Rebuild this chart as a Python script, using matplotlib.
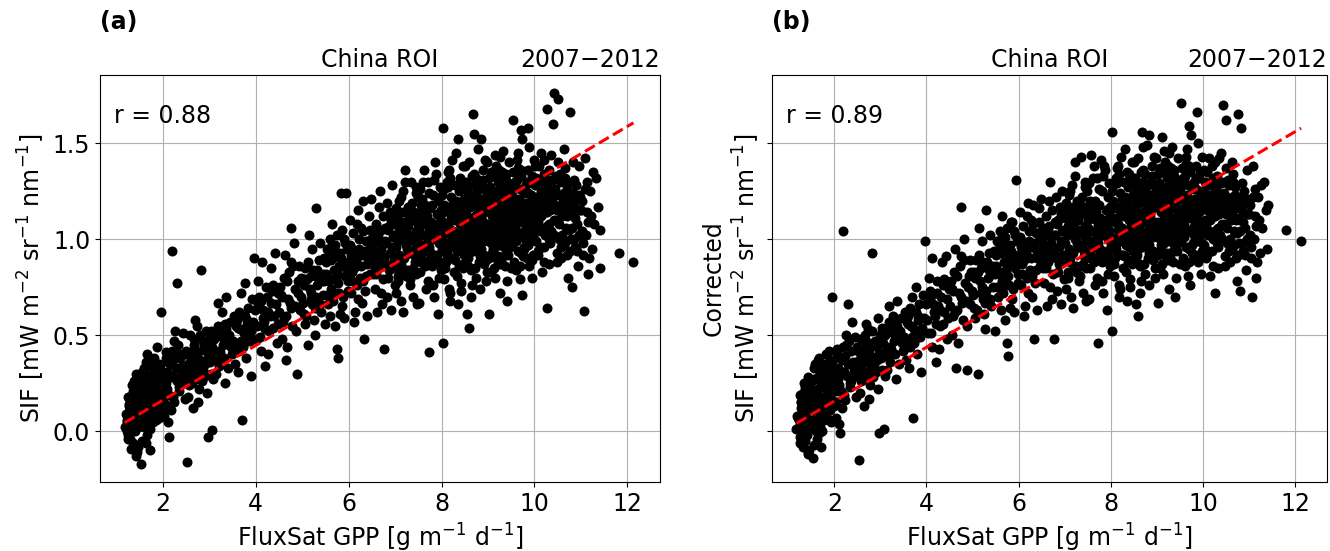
import matplotlib.pyplot as plt
import numpy as np

# FluxSat GPP (shared by both panels), one row of 10 per line
gpp = [
    1.18, 1.22, 1.25, 1.28, 1.31, 1.33, 1.36, 1.38, 1.41, 1.44,
    1.20, 1.24, 1.27, 1.30, 1.34, 1.37, 1.40, 1.43, 1.46, 1.48,
    1.26, 1.29, 1.32, 1.35, 1.39, 1.42, 1.45, 1.47, 1.49, 1.35,
    1.51, 1.53, 1.55, 1.57, 1.59, 1.61, 1.63, 1.65, 1.67, 1.69,
    1.52, 1.56, 1.60, 1.64, 1.68, 1.72, 1.76, 1.80, 1.84, 1.88,
    1.54, 1.58, 1.62, 1.66, 1.70, 1.74, 1.78, 1.82, 1.86, 1.90,
    1.71, 1.73, 1.77, 1.81, 1.85, 1.89, 1.92, 1.94, 1.96, 1.99,
    2.01, 2.04, 2.07, 2.10, 2.13, 2.16, 2.19, 2.22, 2.25, 2.28,
    2.03, 2.08, 2.12, 2.17, 2.21, 2.26, 2.30, 2.34, 2.38, 2.42,
    2.05, 2.11, 2.15, 2.20, 2.24, 2.29, 2.33, 2.37, 2.44, 2.48,
    2.51, 2.53, 2.56, 2.59, 2.62, 2.65, 2.68, 2.71, 2.74, 2.77,
    2.55, 2.60, 2.64, 2.69, 2.73, 2.78, 2.82, 2.86, 2.90, 2.94,
    2.58, 2.66, 2.75, 2.80, 2.84, 2.88, 2.92, 2.95, 2.97, 2.99,
    3.02, 3.07, 3.11, 3.15, 3.19, 3.23, 3.28, 3.33, 3.38, 3.44,
    3.04, 3.09, 3.13, 3.18, 3.22, 3.27, 3.31, 3.36, 3.41, 3.47,
    3.51, 3.55, 3.60, 3.64, 3.68, 3.70, 3.74, 3.79, 3.84, 3.89,
    3.53, 3.58, 3.62, 3.67, 3.72, 3.77, 3.82, 3.87, 3.93, 3.97,
    4.02, 4.06, 4.11, 4.15, 4.20, 4.24, 4.29, 4.34, 4.39, 4.45,
    4.04, 4.09, 4.13, 4.18, 4.22, 4.27, 4.32, 4.37, 4.42, 4.48,
    4.51, 4.56, 4.60, 4.65, 4.70, 4.75, 4.79, 4.84, 4.89, 4.95,
    4.53, 4.58, 4.63, 4.68, 4.72, 4.77, 4.82, 4.87, 4.92, 4.98,
    5.02, 5.07, 5.12, 5.16, 5.21, 5.25, 5.30, 5.35, 5.40, 5.46,
    5.04, 5.09, 5.14, 5.19, 5.23, 5.28, 5.33, 5.38, 5.44, 5.49,
    5.51, 5.55, 5.59, 5.63, 5.67, 5.71, 5.75, 5.79, 5.83, 5.88,
    5.53, 5.57, 5.61, 5.65, 5.69, 5.73, 5.77, 5.81, 5.86, 5.91,
    5.54, 5.62, 5.70, 5.78, 5.85, 5.90, 5.93, 5.95, 5.97, 5.99,
    6.01, 6.05, 6.09, 6.13, 6.17, 6.21, 6.25, 6.29, 6.33, 6.38,
    6.03, 6.07, 6.11, 6.15, 6.19, 6.23, 6.27, 6.31, 6.36, 6.42,
    6.04, 6.12, 6.20, 6.26, 6.35, 6.40, 6.44, 6.46, 6.48, 6.50,
    6.52, 6.56, 6.60, 6.64, 6.68, 6.72, 6.76, 6.80, 6.85, 6.90,
    6.54, 6.58, 6.62, 6.66, 6.70, 6.74, 6.78, 6.83, 6.88, 6.94,
    6.53, 6.61, 6.69, 6.77, 6.82, 6.87, 6.92, 6.95, 6.97, 6.99,
    7.01, 7.04, 7.07, 7.10, 7.13, 7.16, 7.19, 7.22, 7.25, 7.28,
    7.02, 7.06, 7.09, 7.12, 7.15, 7.18, 7.21, 7.24, 7.27, 7.30,
    7.31, 7.33, 7.35, 7.37, 7.39, 7.41, 7.43, 7.45, 7.47, 7.49,
    7.03, 7.11, 7.20, 7.26, 7.32, 7.36, 7.40, 7.44, 7.46, 7.48,
    7.51, 7.54, 7.57, 7.60, 7.63, 7.66, 7.69, 7.72, 7.73, 7.76,
    7.52, 7.55, 7.58, 7.61, 7.64, 7.67, 7.70, 7.74, 7.78, 7.81,
    7.79, 7.82, 7.84, 7.86, 7.88, 7.90, 7.92, 7.94, 7.96, 7.98,
    7.53, 7.59, 7.65, 7.71, 7.77, 7.83, 7.87, 7.91, 7.95, 7.99,
    8.01, 8.03, 8.05, 8.08, 8.11, 8.14, 8.17, 8.20, 8.23, 8.26,
    8.02, 8.03, 8.06, 8.09, 8.12, 8.15, 8.18, 8.21, 8.24, 8.27,
    8.29, 8.32, 8.35, 8.38, 8.41, 8.44, 8.47, 8.49, 8.31, 8.36,
    8.04, 8.10, 8.16, 8.22, 8.28, 8.33, 8.39, 8.43, 8.46, 8.48,
    8.07, 8.13, 8.19, 8.25, 8.30, 8.34, 8.37, 8.40, 8.42, 8.45,
    8.51, 8.53, 8.55, 8.57, 8.59, 8.62, 8.65, 8.68, 8.71, 8.74,
    8.52, 8.56, 8.60, 8.63, 8.66, 8.69, 8.72, 8.75, 8.78, 8.81,
    8.77, 8.80, 8.83, 8.86, 8.89, 8.92, 8.95, 8.97, 8.99, 8.84,
    8.54, 8.61, 8.67, 8.73, 8.79, 8.85, 8.90, 8.93, 8.96, 8.98,
    8.58, 8.64, 8.70, 8.76, 8.82, 8.87, 8.91, 8.94, 8.88, 8.70,
    9.01, 9.02, 9.05, 9.08, 9.11, 9.14, 9.17, 9.20, 9.23, 9.26,
    9.03, 9.06, 9.09, 9.12, 9.15, 9.18, 9.21, 9.24, 9.27, 9.30,
    9.29, 9.32, 9.35, 9.38, 9.41, 9.44, 9.47, 9.49, 9.33, 9.40,
    9.04, 9.10, 9.16, 9.22, 9.28, 9.34, 9.39, 9.43, 9.46, 9.48,
    9.07, 9.13, 9.19, 9.25, 9.31, 9.36, 9.42, 9.45, 9.37, 9.26,
    9.51, 9.53, 9.56, 9.59, 9.62, 9.65, 9.68, 9.71, 9.73, 9.76,
    9.52, 9.55, 9.58, 9.61, 9.64, 9.67, 9.70, 9.74, 9.78, 9.81,
    9.79, 9.83, 9.86, 9.87, 9.90, 9.93, 9.95, 9.97, 9.99, 9.84,
    9.54, 9.60, 9.66, 9.72, 9.77, 9.82, 9.88, 9.91, 9.94, 9.98,
    9.57, 9.63, 9.69, 9.75, 9.80, 9.85, 9.89, 9.92, 9.96, 9.70,
    10.01, 10.04, 10.07, 10.10, 10.13, 10.16, 10.19, 10.22, 10.26, 10.26,
    10.02, 10.06, 10.09, 10.12, 10.15, 10.18, 10.21, 10.24, 10.28, 10.31,
    10.30, 10.33, 10.36, 10.39, 10.42, 10.43, 10.45, 10.48, 10.50, 10.35,
    10.03, 10.08, 10.14, 10.20, 10.27, 10.32, 10.38, 10.41, 10.46, 10.49,
    10.52, 10.55, 10.58, 10.61, 10.64, 10.67, 10.70, 10.73, 10.76, 10.79,
    10.53, 10.59, 10.65, 10.71, 10.77, 10.82, 10.86, 10.90, 10.94, 10.98,
    10.57, 10.63, 10.69, 10.75, 10.81, 10.85, 10.88, 10.92, 10.96, 10.99,
    11.03, 11.06, 11.10, 11.14, 11.18, 11.22, 11.26, 11.33, 11.40, 11.42,
    11.05, 11.08, 11.12, 11.16, 11.20, 11.28, 11.81, 12.13, 11.24, 11.36,
    1.23, 1.30, 1.37, 1.44, 1.50, 1.58, 1.65, 1.73, 1.80, 1.87,
    1.25, 1.33, 1.40, 1.47, 1.55, 1.62, 1.70, 1.78, 1.85, 1.93,
    1.95, 2.02, 2.09, 2.14, 2.23, 2.31, 2.36, 2.41, 2.46, 2.49,
    2.52, 2.57, 2.63, 2.67, 2.72, 2.76, 2.81, 2.87, 2.93, 2.98,
    3.06, 3.14, 3.21, 3.29, 3.35, 3.42, 3.49, 3.57, 3.65, 3.75,
    3.81, 3.90, 3.99, 4.08, 4.16, 4.26, 4.35, 4.44, 4.55, 4.62,
    4.67, 4.74, 4.81, 4.90, 4.97, 5.05, 5.13, 5.22, 5.31, 5.42,
    5.52, 5.60, 5.68, 5.76, 5.84, 5.92, 6.00, 6.08, 6.16, 6.24,
    6.32, 6.39, 6.47, 6.55, 6.63, 6.71, 6.79, 6.86, 6.93, 6.98,
    6.08, 6.18, 6.28, 6.37, 6.45, 6.57, 6.65, 6.73, 6.81, 6.91,
    7.05, 7.14, 7.23, 7.34, 7.42, 7.50, 7.58, 7.68, 7.75, 7.85,
    7.08, 7.17, 7.27, 7.38, 7.47, 7.56, 7.62, 7.72, 7.80, 7.93,
    7.96, 8.04, 8.12, 8.20, 8.28, 8.36, 8.44, 8.52, 8.60, 8.68,
    8.00, 8.08, 8.16, 8.24, 8.32, 8.40, 8.48, 8.56, 8.64, 8.72,
    8.76, 8.84, 8.92, 9.00, 9.08, 9.16, 9.24, 9.32, 9.40, 9.48,
    8.80, 8.88, 8.96, 9.04, 9.12, 9.20, 9.28, 9.36, 9.44, 9.52,
    9.56, 9.64, 9.72, 9.80, 9.88, 9.96, 10.04, 10.12, 10.20, 10.28,
    9.60, 9.68, 9.76, 9.84, 9.92, 10.00, 10.08, 10.16, 10.24, 10.32,
    10.36, 10.44, 10.52, 10.60, 10.68, 10.76, 10.84, 10.92, 11.00, 11.08,
    10.40, 10.48, 10.56, 10.64, 10.72, 10.80, 10.88, 10.96, 11.04, 11.15,
    7.12, 7.29, 7.44, 7.61, 7.77, 7.89, 8.05, 8.21, 8.37, 8.53,
    8.69, 8.86, 9.01, 9.18, 9.33, 9.50, 9.66, 9.82, 9.97, 10.13,
    8.14, 8.26, 8.42, 8.58, 8.74, 8.90, 9.06, 9.22, 9.38, 9.54,
    9.70, 9.86, 10.02, 10.18, 10.34, 10.50, 10.66, 10.82, 7.36, 7.70,
    3.52, 3.61, 3.69, 3.78, 3.86, 3.95, 4.03, 4.12, 4.21, 4.30,
    4.38, 4.47, 4.57, 4.66, 4.76, 4.85, 4.94, 5.03, 5.11, 5.20,
    5.27, 5.36, 5.45, 5.56, 5.64, 5.72, 5.80, 5.89, 5.98, 6.06,
    6.14, 6.22, 6.30, 6.41, 6.49, 6.59, 6.67, 6.75, 6.84, 6.96,
    5.06, 5.18, 5.29, 5.39, 5.48, 5.58, 5.66, 5.74, 5.82, 5.94,
    7.00, 7.09, 7.18, 7.28, 7.37, 7.46, 7.55, 7.64, 7.73, 7.82,
    7.91, 7.99, 8.07, 8.15, 8.23, 8.31, 8.39, 8.47, 8.55, 8.63,
    8.71, 8.79, 8.87, 8.95, 9.03, 9.11, 9.19, 9.27, 9.35, 9.43,
    9.51, 9.59, 9.67, 9.75, 9.83, 9.91, 9.99, 10.07, 10.15, 10.23,
    10.31, 10.39, 10.47, 10.55, 10.63, 10.71, 10.79, 10.87, 10.95, 11.03,
    7.07, 7.22, 7.39, 7.53, 7.69, 7.84, 8.00, 8.18, 8.33, 8.50,
    8.66, 8.81, 8.98, 9.14, 9.30, 9.46, 9.62, 9.78, 9.94, 10.10,
    7.15, 7.30, 7.48, 7.63, 7.81, 7.97, 8.11, 8.27, 8.43, 8.59,
    8.75, 8.91, 9.09, 9.24, 9.41, 9.57, 9.73, 9.89, 10.05, 10.21,
    2.00, 2.18, 2.35, 2.54, 2.70, 2.89, 3.03, 3.20, 3.37, 3.55,
    1.28, 1.36, 1.46, 1.56, 1.66, 1.75, 1.83, 1.91, 1.97, 2.06,
]

# SIF, panel (a)
sif = [
    0.02, 0.06, -0.02, 0.10, 0.04, 0.15, -0.06, 0.20, 0.08, -0.11,
    0.09, 0.00, 0.14, -0.04, 0.24, 0.11, 0.03, 0.30, -0.08, 0.17,
    0.18, 0.07, -0.09, 0.13, 0.26, -0.13, 0.05, 0.22, 0.12, 0.01,
    0.10, -0.17, 0.25, 0.04, 0.33, 0.15, -0.06, 0.21, 0.40, 0.08,
    0.28, 0.12, 0.02, 0.36, 0.17, -0.10, 0.24, 0.30, 0.12, 0.44,
    0.19, 0.07, 0.30, -0.02, 0.14, 0.35, 0.05, 0.20, 0.26, 0.10,
    0.22, 0.01, 0.16, 0.38, 0.06, 0.23, 0.31, 0.15, 0.62, 0.19,
    0.30, 0.14, 0.41, 0.22, -0.03, 0.35, 0.94, 0.18, 0.47, 0.27,
    0.08, 0.25, 0.36, 0.11, 0.29, 0.52, 0.77, 0.21, 0.38, 0.30,
    0.19, 0.05, 0.28, 0.42, 0.15, 0.33, 0.45, 0.24, 0.51, 0.17,
    0.40, -0.16, 0.28, 0.50, 0.34, 0.12, 0.45, 0.30, 0.55, 0.22,
    0.18, 0.38, 0.25, 0.58, 0.41, 0.33, 0.84, 0.47, 0.29, 0.52,
    0.31, 0.42, 0.15, 0.37, 0.26, 0.44, 0.35, 0.20, -0.03, 0.48,
    0.36, 0.005, 0.48, 0.30, 0.55, 0.41, 0.62, 0.25, 0.46, 0.57,
    0.52, 0.27, 0.40, 0.67, 0.34, 0.49, 0.38, 0.70, 0.33, 0.44,
    0.47, 0.35, 0.58, 0.42, 0.72, 0.06, 0.51, 0.38, 0.64, 0.29,
    0.60, 0.45, 0.31, 0.53, 0.44, 0.77, 0.56, 0.47, 0.69, 0.90,
    0.55, 0.78, 0.42, 0.63, 0.34, 0.70, 0.52, 0.85, 0.60, 0.46,
    0.66, 0.49, 0.88, 0.57, 0.75, 0.40, 0.67, 0.54, 0.93, 0.72,
    0.62, 0.48, 0.80, 0.37, 0.69, 1.06, 0.55, 0.74, 0.30, 0.63,
    0.75, 0.57, 0.92, 0.44, 0.83, 0.64, 0.98, 0.52, 0.78, 0.70,
    0.67, 0.85, 0.45, 0.74, 0.95, 0.58, 1.16, 0.80, 0.62, 0.90,
    0.79, 0.60, 1.02, 0.69, 0.84, 0.50, 0.76, 0.98, 0.71, 0.56,
    0.82, 0.66, 1.00, 0.74, 0.90, 0.55, 0.43, 0.86, 1.24, 0.70,
    0.95, 0.78, 0.60, 1.08, 0.84, 0.72, 0.38, 0.93, 0.65, 0.88,
    0.71, 0.89, 0.97, 0.77, 1.05, 0.59, 0.81, 1.24, 0.95, 0.73,
    0.88, 0.72, 1.03, 0.62, 0.94, 1.15, 0.80, 0.67, 0.48, 0.99,
    1.10, 0.83, 0.57, 0.91, 0.76, 1.00, 0.86, 1.20, 0.73, 0.90,
    0.97, 0.85, 0.69, 1.06, 0.94, 0.60, 1.12, 0.82, 1.21, 0.96,
    0.92, 0.74, 1.08, 0.85, 1.25, 0.66, 0.43, 0.98, 0.80, 1.14,
    1.03, 0.88, 0.62, 1.17, 0.95, 0.79, 1.06, 0.70, 0.93, 1.28,
    0.82, 0.99, 0.72, 0.90, 1.19, 0.84, 0.63, 1.01, 0.89, 0.76,
    0.96, 1.12, 0.78, 1.03, 0.68, 1.25, 0.90, 1.36, 0.84, 1.07,
    0.72, 0.99, 1.20, 0.87, 1.09, 0.62, 1.00, 0.81, 1.17, 0.93,
    1.02, 0.79, 1.30, 0.94, 0.70, 1.14, 0.88, 1.04, 0.66, 1.22,
    1.16, 0.85, 1.06, 0.95, 0.76, 1.10, 0.99, 1.27, 0.82, 0.97,
    1.05, 0.83, 1.21, 0.95, 1.36, 0.74, 1.12, 0.89, 0.41, 1.01,
    0.67, 1.14, 0.97, 1.30, 0.86, 1.08, 0.78, 1.24, 1.00, 0.92,
    1.18, 0.76, 1.04, 1.40, 0.88, 1.13, 0.61, 0.98, 1.27, 0.84,
    0.90, 1.02, 1.18, 0.94, 1.09, 0.70, 1.34, 1.06, 0.80, 1.15,
    1.00, 0.46, 1.18, 0.85, 1.30, 0.96, 0.74, 1.12, 1.41, 0.90,
    1.23, 1.58, 0.79, 1.07, 0.93, 1.36, 0.68, 1.02, 1.19, 0.83,
    1.10, 0.95, 1.52, 1.25, 0.77, 1.05, 1.38, 0.92, 1.45, 0.66,
    1.09, 0.88, 1.15, 0.99, 1.28, 0.81, 1.13, 1.00, 0.87, 1.21,
    0.94, 1.27, 0.72, 1.04, 0.89, 1.17, 0.98, 1.32, 0.73, 1.08,
    1.04, 1.30, 0.61, 0.90, 0.54, 1.17, 0.98, 1.65, 1.22, 0.80,
    1.15, 0.86, 1.40, 1.06, 0.76, 1.28, 0.95, 1.12, 1.47, 0.88,
    1.01, 1.26, 0.74, 1.10, 1.36, 0.92, 1.19, 0.83, 1.06, 1.52,
    0.96, 1.21, 1.08, 0.85, 1.14, 0.99, 1.31, 1.03, 0.78, 1.24,
    1.11, 0.70, 1.34, 1.00, 0.91, 1.18, 0.87, 1.41, 1.07, 1.55,
    1.08, 0.61, 1.27, 0.93, 1.15, 0.80, 1.38, 1.02, 1.20, 0.72,
    1.32, 0.98, 1.12, 0.85, 1.44, 1.06, 0.91, 1.25, 1.00, 1.17,
    0.89, 1.22, 1.05, 1.34, 0.78, 1.13, 0.96, 1.28, 1.46, 0.68,
    1.18, 0.95, 1.09, 1.30, 0.87, 1.03, 1.19, 0.92, 1.40, 1.09,
    0.83, 1.24, 0.98, 1.11, 1.35, 0.86, 1.16, 1.01, 1.24, 1.43,
    1.12, 1.62, 0.88, 1.30, 1.01, 1.45, 0.79, 1.18, 0.71, 1.25,
    0.97, 1.20, 1.06, 0.84, 1.37, 1.10, 0.93, 1.52, 1.04, 1.28,
    1.15, 0.90, 1.36, 1.58, 1.08, 1.23, 0.80, 1.14, 1.41, 1.00,
    1.26, 0.99, 1.14, 1.33, 0.95, 1.19, 1.05, 1.30, 0.89, 1.20,
    1.04, 1.41, 0.86, 1.09, 1.24, 0.97, 1.48, 1.12, 1.03, 1.57,
    1.10, 1.32, 0.92, 1.21, 1.45, 0.83, 1.16, 1.02, 0.64, 1.68,
    1.28, 1.05, 1.38, 0.96, 1.12, 1.30, 0.88, 1.24, 1.07, 1.36,
    1.19, 0.98, 1.31, 1.60, 1.10, 1.76, 1.26, 0.93, 1.73, 1.44,
    0.99, 1.17, 1.06, 1.41, 1.14, 0.87, 1.21, 1.02, 1.33, 1.15,
    1.08, 1.34, 0.90, 1.20, 1.47, 0.99, 1.26, 0.80, 1.66, 1.13,
    1.23, 1.02, 1.37, 0.92, 1.18, 1.40, 1.00, 1.28, 0.86, 1.15,
    0.96, 1.15, 1.29, 1.05, 0.75, 1.31, 1.11, 0.94, 1.38, 1.22,
    1.20, 0.625, 1.02, 1.30, 0.90, 1.12, 1.35, 1.32, 0.85, 1.05,
    0.98, 1.42, 1.14, 0.82, 1.25, 1.08, 0.93, 0.88, 0.95, 1.17,
    0.05, 0.12, 0.08, 0.16, 0.20, 0.18, 0.27, 0.26, 0.33, 0.29,
    -0.04, 0.19, 0.00, 0.09, -0.05, 0.10, 0.04, 0.12, 0.18, 0.07,
    0.34, 0.23, 0.31, 0.19, 0.37, 0.26, 0.40, 0.34, 0.27, 0.42,
    0.33, 0.24, 0.38, 0.48, 0.27, 0.41, 0.50, 0.32, 0.42, 0.38,
    0.44, 0.37, 0.51, 0.45, 0.56, 0.50, 0.40, 0.55, 0.62, 0.46,
    0.58, 0.52, 0.63, 0.70, 0.59, 0.62, 0.73, 0.66, 0.71, 0.59,
    0.78, 0.67, 0.86, 0.72, 0.80, 0.76, 0.88, 0.66, 0.84, 0.78,
    0.88, 0.79, 0.94, 0.83, 0.90, 0.98, 0.86, 0.95, 0.89, 0.93,
    1.04, 0.87, 0.98, 0.94, 1.01, 0.91, 0.99, 1.07, 0.96, 1.02,
    0.78, 1.08, 0.92, 0.81, 1.05, 0.85, 0.93, 1.12, 0.87, 1.10,
    0.88, 1.05, 0.97, 1.15, 0.91, 1.08, 0.93, 1.02, 1.16, 1.07,
    1.04, 0.82, 1.13, 0.84, 1.00, 0.88, 1.10, 0.96, 0.86, 1.20,
    1.03, 1.14, 0.92, 1.22, 1.02, 1.10, 1.19, 0.99, 1.09, 0.94,
    0.86, 0.98, 1.06, 0.90, 1.18, 0.94, 1.03, 1.24, 0.84, 1.18,
    1.07, 0.95, 1.14, 1.02, 1.21, 0.96, 1.10, 1.18, 1.04, 1.22,
    1.17, 1.28, 0.89, 1.14, 1.03, 1.25, 0.97, 0.92, 1.27, 1.04,
    1.19, 0.94, 1.10, 1.00, 1.19, 1.06, 1.22, 1.04, 0.96, 1.28,
    1.08, 1.26, 0.91, 1.30, 0.99, 1.17, 0.94, 1.13, 1.20, 1.08,
    1.04, 1.18, 1.00, 1.12, 1.06, 0.94, 1.20, 1.08, 1.15, 1.26,
    1.25, 0.88, 1.30, 0.97, 1.22, 1.06, 0.96, 1.02, 0.92, 1.09,
    1.22, 0.93, 1.24, 1.13, 0.93, 1.08, 1.26, 1.10, 0.86, 1.13,
    1.00, 1.21, 1.16, 0.90, 1.09, 0.85, 1.21, 1.11, 0.92, 1.25,
    1.35, 0.97, 1.29, 1.20, 1.32, 1.05, 1.35, 0.87, 1.31, 1.35,
    1.36, 1.24, 1.38, 1.25, 1.15, 1.40, 1.32, 1.24, 1.00, 1.30,
    0.41, 0.54, 0.47, 0.60, 0.50, 0.57, 0.48, 0.68, 0.53, 0.60,
    0.76, 0.56, 0.70, 0.60, 0.88, 0.65, 0.86, 0.61, 0.79, 0.72,
    0.64, 0.89, 0.82, 0.71, 0.97, 0.80, 0.72, 1.00, 0.78, 0.92,
    0.86, 0.95, 0.78, 0.90, 1.00, 0.82, 1.04, 0.88, 1.05, 0.85,
    0.56, 0.81, 0.70, 0.66, 0.78, 0.91, 0.68, 1.02, 0.61, 0.85,
    1.08, 0.92, 1.14, 1.00, 1.19, 0.96, 1.18, 1.12, 1.05, 1.00,
    0.92, 1.10, 0.98, 1.03, 1.12, 1.20, 1.08, 0.85, 1.26, 1.02,
    1.12, 0.97, 1.05, 1.22, 0.90, 1.07, 1.32, 1.14, 0.96, 1.07,
    1.23, 1.14, 1.02, 1.18, 1.06, 1.15, 1.00, 1.09, 1.23, 1.14,
    1.00, 1.31, 1.10, 1.17, 1.24, 1.12, 1.00, 1.16, 1.23, 1.04,
    0.81, 1.30, 0.85, 1.26, 0.98, 1.31, 0.95, 1.32, 1.16, 1.38,
    1.33, 1.03, 1.40, 1.17, 1.27, 0.99, 1.31, 0.96, 1.33, 1.18,
    1.01, 1.10, 1.11, 0.88, 1.23, 0.88, 1.08, 1.16, 1.12, 0.93,
    1.24, 0.99, 1.00, 1.36, 1.22, 1.30, 1.16, 0.86, 1.12, 1.34,
    0.12, 0.29, 0.23, 0.35, 0.36, 0.45, 0.30, 0.42, 0.53, 0.43,
    0.13, 0.21, 0.02, 0.31, 0.11, 0.09, 0.26, 0.35, 0.27, 0.38,
]

# Corrected SIF, panel (b)
sif_corr = [
    0.01, 0.07, -0.03, 0.12, 0.05, 0.13, -0.05, 0.22, 0.09, -0.11,
    0.08, 0.02, 0.15, -0.06, 0.25, 0.10, 0.05, 0.28, -0.10, 0.18,
    0.19, 0.06, -0.08, 0.14, 0.23, -0.12, 0.04, 0.20, 0.13, 0.00,
    0.11, -0.14, 0.27, 0.03, 0.35, 0.14, -0.04, 0.22, 0.38, 0.09,
    0.26, 0.13, 0.00, 0.37, 0.18, -0.08, 0.25, 0.31, 0.14, 0.42,
    0.20, 0.06, 0.33, -0.01, 0.15, 0.33, 0.06, 0.22, 0.28, 0.11,
    0.24, 0.00, 0.17, 0.40, 0.07, 0.25, 0.33, 0.16, 0.70, 0.21,
    0.32, 0.15, 0.43, 0.24, -0.01, 0.37, 1.04, 0.19, 0.45, 0.29,
    0.07, 0.27, 0.38, 0.12, 0.31, 0.50, 0.66, 0.23, 0.57, 0.32,
    0.21, 0.04, 0.30, 0.44, 0.16, 0.35, 0.47, 0.26, 0.49, 0.18,
    0.42, -0.15, 0.30, 0.48, 0.36, 0.13, 0.47, 0.31, 0.53, 0.24,
    0.20, 0.40, 0.27, 0.56, 0.43, 0.35, 0.93, 0.45, 0.31, 0.59,
    0.33, 0.44, 0.17, 0.39, 0.28, 0.46, 0.37, 0.22, -0.01, 0.50,
    0.38, 0.01, 0.50, 0.32, 0.57, 0.43, 0.60, 0.27, 0.48, 0.59,
    0.54, 0.29, 0.42, 0.65, 0.36, 0.51, 0.40, 0.68, 0.35, 0.46,
    0.49, 0.37, 0.60, 0.44, 0.70, 0.07, 0.53, 0.40, 0.66, 0.31,
    0.62, 0.47, 0.33, 0.55, 0.46, 0.75, 0.58, 0.49, 0.71, 0.99,
    0.58, 0.80, 0.44, 0.66, 0.36, 0.72, 0.55, 0.88, 0.62, 0.48,
    0.69, 0.51, 0.90, 0.60, 0.78, 0.43, 0.70, 0.56, 0.91, 0.74,
    0.65, 0.50, 0.83, 0.33, 0.72, 1.17, 0.58, 0.77, 0.32, 0.66,
    0.78, 0.60, 0.95, 0.46, 0.86, 0.67, 1.00, 0.55, 0.81, 0.73,
    0.71, 0.89, 0.30, 0.78, 0.99, 0.61, 1.15, 0.84, 0.65, 0.94,
    0.83, 0.63, 1.06, 0.72, 0.88, 0.53, 0.80, 1.02, 0.75, 0.52,
    0.86, 0.70, 1.04, 0.78, 0.94, 0.58, 0.46, 0.90, 1.09, 0.74,
    0.99, 0.82, 0.63, 1.12, 0.88, 0.76, 0.39, 0.97, 0.69, 0.92,
    0.75, 0.93, 1.01, 0.81, 1.09, 0.62, 0.85, 1.31, 0.99, 0.77,
    0.92, 0.76, 1.07, 0.65, 0.98, 1.19, 0.84, 0.70, 0.48, 1.03,
    1.14, 0.87, 0.60, 0.95, 0.80, 1.04, 0.90, 1.18, 0.77, 0.94,
    1.01, 0.89, 0.72, 1.10, 0.98, 0.63, 1.16, 0.86, 1.21, 1.00,
    0.95, 0.77, 1.12, 0.88, 1.30, 0.69, 0.48, 1.02, 0.83, 1.17,
    1.06, 0.91, 0.65, 1.20, 0.98, 0.82, 1.09, 0.73, 0.96, 1.25,
    0.85, 1.02, 0.75, 0.93, 1.22, 0.87, 0.66, 1.04, 0.92, 0.79,
    0.98, 1.15, 0.80, 1.06, 0.70, 1.28, 0.93, 1.40, 0.86, 1.10,
    0.74, 1.02, 1.23, 0.90, 1.12, 0.64, 1.03, 0.83, 1.20, 0.96,
    1.05, 0.81, 1.43, 0.97, 0.72, 1.17, 0.91, 1.07, 0.68, 1.25,
    1.19, 0.88, 1.09, 0.98, 0.78, 1.13, 1.02, 1.30, 0.85, 1.00,
    1.06, 0.85, 1.44, 0.97, 1.38, 0.76, 1.14, 0.91, 0.46, 1.03,
    0.69, 1.16, 0.99, 1.32, 0.88, 1.10, 0.80, 1.26, 1.02, 0.94,
    1.41, 0.78, 1.06, 1.38, 0.90, 1.15, 0.63, 1.00, 1.29, 0.86,
    0.92, 1.04, 1.20, 0.96, 1.11, 0.72, 1.36, 1.08, 0.82, 1.17,
    1.01, 0.52, 1.20, 0.87, 1.32, 0.98, 0.76, 1.14, 1.43, 0.92,
    1.25, 1.56, 0.81, 1.09, 0.95, 1.38, 0.70, 1.04, 1.21, 0.85,
    1.12, 0.97, 1.35, 1.27, 0.79, 1.07, 1.40, 0.94, 1.47, 0.68,
    1.11, 0.90, 1.17, 1.01, 1.30, 0.83, 1.15, 1.02, 0.89, 1.23,
    0.96, 1.29, 0.74, 1.06, 0.91, 1.19, 1.00, 1.34, 0.75, 1.10,
    1.06, 1.32, 0.66, 0.92, 0.60, 1.19, 1.00, 1.56, 1.24, 0.82,
    1.17, 0.88, 1.42, 1.08, 0.78, 1.30, 0.97, 1.14, 1.49, 0.90,
    1.03, 1.28, 0.76, 1.12, 1.38, 0.94, 1.21, 0.85, 1.08, 1.54,
    0.98, 1.23, 1.10, 0.87, 1.16, 1.01, 1.33, 1.05, 0.80, 1.26,
    1.13, 0.72, 1.36, 1.02, 0.93, 1.20, 0.89, 1.43, 1.09, 1.48,
    1.09, 0.67, 1.29, 0.95, 1.53, 0.82, 1.40, 1.04, 1.22, 0.74,
    1.34, 1.00, 1.14, 0.87, 1.46, 1.08, 0.93, 1.27, 1.02, 1.19,
    0.91, 1.24, 1.07, 1.36, 0.80, 1.15, 0.98, 1.30, 1.48, 0.70,
    1.20, 0.97, 1.11, 1.32, 0.89, 1.05, 1.21, 0.94, 1.42, 1.11,
    0.85, 1.26, 1.00, 1.13, 1.37, 0.88, 1.18, 1.03, 1.26, 1.45,
    1.13, 1.71, 0.90, 1.32, 1.03, 1.47, 0.81, 1.20, 0.76, 1.27,
    0.99, 1.22, 1.08, 0.86, 1.39, 1.12, 0.95, 1.54, 1.06, 1.30,
    1.17, 0.92, 1.38, 1.66, 1.10, 1.25, 0.82, 1.16, 1.43, 1.02,
    1.28, 1.01, 1.16, 1.35, 0.97, 1.21, 1.07, 1.32, 0.91, 1.22,
    1.06, 1.43, 0.88, 1.11, 1.26, 0.99, 1.50, 1.14, 1.05, 1.59,
    1.08, 1.30, 0.90, 1.19, 1.42, 0.81, 1.14, 1.00, 0.72, 1.40,
    1.25, 1.03, 1.35, 0.94, 1.10, 1.28, 0.86, 1.22, 1.05, 1.33,
    1.17, 0.96, 1.29, 1.45, 1.08, 1.70, 1.24, 0.91, 1.62, 1.42,
    0.97, 1.15, 1.04, 1.38, 1.12, 0.85, 1.19, 1.00, 1.30, 1.13,
    1.06, 1.31, 0.88, 1.18, 1.40, 0.97, 1.23, 0.78, 1.65, 1.11,
    1.20, 1.00, 1.34, 0.90, 1.16, 1.58, 0.98, 1.25, 0.84, 1.13,
    0.94, 1.13, 1.27, 1.03, 0.73, 1.29, 1.09, 0.92, 1.36, 1.20,
    1.18, 0.70, 1.00, 1.26, 0.88, 1.10, 1.28, 1.30, 0.95, 1.18,
    0.96, 1.38, 1.12, 0.80, 1.22, 1.06, 1.05, 0.99, 0.93, 1.15,
    0.06, 0.14, 0.09, 0.17, 0.22, 0.19, 0.28, 0.27, 0.35, 0.30,
    -0.06, 0.20, -0.02, 0.08, -0.07, 0.11, 0.02, 0.10, 0.19, 0.05,
    0.36, 0.25, 0.33, 0.21, 0.39, 0.28, 0.42, 0.36, 0.29, 0.44,
    0.35, 0.26, 0.40, 0.50, 0.29, 0.43, 0.52, 0.34, 0.44, 0.40,
    0.46, 0.39, 0.53, 0.47, 0.58, 0.52, 0.42, 0.57, 0.64, 0.48,
    0.60, 0.54, 0.66, 0.73, 0.62, 0.65, 0.76, 0.69, 0.74, 0.62,
    0.81, 0.70, 0.89, 0.75, 0.83, 0.80, 0.92, 0.69, 0.88, 0.82,
    0.92, 0.83, 0.98, 0.87, 0.94, 1.02, 0.90, 0.99, 0.93, 0.97,
    1.08, 0.90, 1.01, 0.97, 1.04, 0.94, 1.02, 1.10, 0.99, 1.05,
    0.82, 1.12, 0.96, 0.84, 1.09, 0.88, 0.96, 1.15, 0.90, 1.13,
    0.90, 1.08, 1.00, 1.18, 0.94, 1.10, 0.95, 1.04, 1.18, 1.09,
    1.07, 0.84, 1.16, 0.86, 1.03, 0.90, 1.12, 0.98, 0.88, 1.22,
    1.05, 1.16, 0.94, 1.24, 1.04, 1.12, 1.21, 1.01, 1.11, 0.96,
    0.88, 1.00, 1.08, 0.92, 1.20, 0.96, 1.05, 1.26, 0.86, 1.20,
    1.09, 0.97, 1.16, 1.04, 1.23, 0.98, 1.12, 1.20, 1.06, 1.24,
    1.19, 1.30, 0.91, 1.16, 1.05, 1.27, 0.99, 0.94, 1.29, 1.06,
    1.21, 0.96, 1.12, 1.02, 1.21, 1.08, 1.20, 1.02, 0.94, 1.26,
    1.10, 1.28, 0.93, 1.32, 1.01, 1.19, 0.92, 1.11, 1.18, 1.06,
    1.02, 1.16, 0.98, 1.10, 1.04, 0.92, 1.18, 1.06, 1.13, 1.22,
    1.23, 0.86, 1.28, 0.95, 1.20, 1.04, 0.94, 1.00, 0.90, 1.07,
    1.25, 0.96, 1.27, 1.15, 0.95, 1.10, 1.28, 1.12, 0.88, 1.15,
    1.02, 1.23, 1.18, 0.92, 1.11, 0.87, 1.23, 1.13, 0.94, 1.23,
    1.37, 0.99, 1.31, 1.22, 1.34, 1.07, 1.37, 0.89, 1.33, 1.37,
    1.38, 1.26, 1.36, 1.23, 1.13, 1.37, 1.30, 1.22, 1.03, 1.32,
    0.43, 0.56, 0.49, 0.62, 0.52, 0.59, 0.51, 0.71, 0.56, 0.63,
    0.79, 0.59, 0.73, 0.63, 0.91, 0.68, 0.89, 0.64, 0.83, 0.75,
    0.67, 0.93, 0.86, 0.75, 1.01, 0.84, 0.76, 1.04, 0.82, 0.96,
    0.90, 0.99, 0.81, 0.94, 1.04, 0.85, 1.07, 0.91, 1.08, 0.88,
    0.59, 0.85, 0.73, 0.69, 0.82, 0.95, 0.72, 1.06, 0.64, 0.89,
    1.11, 0.95, 1.17, 1.03, 1.22, 0.99, 1.20, 1.14, 1.07, 1.02,
    0.94, 1.12, 1.00, 1.05, 1.14, 1.22, 1.10, 0.87, 1.28, 1.04,
    1.14, 0.99, 1.07, 1.24, 0.92, 1.09, 1.34, 1.16, 0.98, 1.09,
    1.25, 1.16, 1.04, 1.20, 1.08, 1.17, 0.98, 1.07, 1.21, 1.12,
    0.98, 1.29, 1.08, 1.15, 1.22, 1.10, 0.98, 1.14, 1.21, 1.02,
    0.83, 1.33, 0.87, 1.29, 1.00, 1.33, 0.97, 1.34, 1.18, 1.40,
    1.35, 1.05, 1.42, 1.19, 1.29, 1.01, 1.33, 0.98, 1.35, 1.16,
    1.04, 1.13, 1.14, 0.90, 1.25, 0.90, 1.10, 1.18, 1.14, 0.95,
    1.26, 1.01, 1.02, 1.38, 1.24, 1.32, 1.18, 0.88, 1.10, 1.32,
    0.13, 0.31, 0.25, 0.37, 0.38, 0.47, 0.32, 0.44, 0.55, 0.45,
    0.15, 0.23, 0.01, 0.33, 0.12, 0.10, 0.28, 0.37, 0.29, 0.40,
]

# regression lines (slope, intercept)
fit_a = (0.1426, -0.124)
fit_b = (0.1403, -0.124)

gpp = np.array(gpp)
sif = np.array(sif)
sif_corr = np.array(sif_corr)

fs = 17
plt.rcParams['font.size'] = fs

fig = plt.figure(figsize=(13.3, 5.51), dpi=100)
ax_a = fig.add_axes([0.0752, 0.125, 0.421, 0.739])
ax_b = fig.add_axes([0.5805, 0.125, 0.4175, 0.739])

ylab = 'SIF [mW m$^{-2}$ sr$^{-1}$ nm$^{-1}$]'
panels = [(ax_a, sif, fit_a, '(a)', 'r = 0.88', ylab),
          (ax_b, sif_corr, fit_b, '(b)', 'r = 0.89', 'Corrected\n' + ylab)]

for ax, y, fit, tag, rtxt, yl in panels:
    ax.scatter(gpp, y, s=52, c='black', linewidths=0, zorder=2)
    k, b = fit
    xx = np.array([gpp.min(), gpp.max()])
    ax.plot(xx, k * xx + b, '--', color='red', lw=2.2, zorder=3)
    ax.set_xlim(0.65, 12.7)
    ax.set_ylim(-0.265, 1.855)
    ax.set_xticks([2, 4, 6, 8, 10, 12])
    ax.set_yticks([0.0, 0.5, 1.0, 1.5])
    ax.grid(True, color='#b0b0b0', lw=0.8, zorder=0)
    ax.set_axisbelow(True)
    ax.set_xlabel('FluxSat GPP [g m$^{-1}$ d$^{-1}$]')
    ax.set_ylabel(yl)
    ax.set_title('China ROI', fontsize=fs)
    ax.set_title('2007\u22122012', loc='right', fontsize=fs)
    ax.text(0.0, 1.13, tag, transform=ax.transAxes, fontweight='bold',
            va='center', ha='left')
    ax.text(0.025, 0.9, rtxt, transform=ax.transAxes, va='center')

ax_b.tick_params(labelleft=False)

fig.savefig('out.png', dpi=100)
